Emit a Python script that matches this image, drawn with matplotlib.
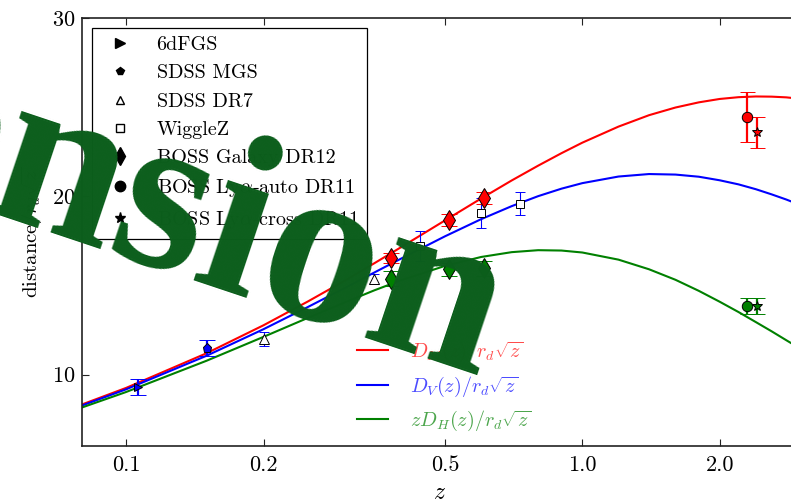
import numpy as np
import matplotlib
matplotlib.use('Agg')
import matplotlib.pyplot as plt
from matplotlib.lines import Line2D

plt.rcParams['font.family'] = 'serif'
plt.rcParams['font.serif'] = ['cmr10']
plt.rcParams['mathtext.fontset'] = 'cm'
plt.rcParams['axes.unicode_minus'] = False
plt.rcParams['axes.formatter.use_mathtext'] = True

# model curves (fiducial LCDM), tabulated in z
z_model = [0.08, 0.1, 0.15, 0.2, 0.25, 0.3, 0.35, 0.4, 0.5, 0.6, 0.7, 0.8, 0.9, 1.0,
           1.2, 1.4, 1.6, 1.8, 2.0, 2.2, 2.4, 2.6, 2.8, 3.0]
dm_model = [8.33, 9.26, 11.20, 12.77, 14.10, 15.24, 16.25, 17.14, 18.65, 19.88, 20.89, 21.72, 22.42, 23.01,
            23.91, 24.55, 24.98, 25.27, 25.46, 25.56, 25.60, 25.59, 25.55, 25.47]
dv_model = [8.27, 9.18, 11.06, 12.55, 13.79, 14.83, 15.73, 16.50, 17.76, 18.72, 19.45, 20.01, 20.43, 20.74,
            21.11, 21.25, 21.22, 21.10, 20.90, 20.67, 20.40, 20.11, 19.82, 19.52]
dh_model = [8.16, 9.03, 10.78, 12.12, 13.18, 14.03, 14.73, 15.29, 16.10, 16.60, 16.87, 16.98, 16.96, 16.85,
            16.45, 15.91, 15.32, 14.70, 14.09, 13.51, 12.95, 12.43, 11.93, 11.47]

# BAO measurements
z_6df, dv_6df, err_6df = [0.106], [9.33], [0.45]
z_mgs, dv_mgs, err_mgs = [0.15], [11.47], [0.45]
z_dr7, dv_dr7, err_dr7 = [0.2, 0.35], [11.99, 15.36], [0.40, 0.30]
z_wig, dv_wig, err_wig = [0.44, 0.6, 0.73], [17.21, 19.07, 19.59], [0.83, 0.85, 0.65]
z_dr12 = [0.38, 0.51, 0.61]
dm_dr12, dm_dr12_err = [16.55, 18.66, 19.90], [0.28, 0.33, 0.32]
dh_dr12, dh_dr12_err = [15.38, 15.90, 15.96], [0.42, 0.37, 0.40]
z_lyauto, dm_lyauto, dm_lyauto_err, dh_lyauto, dh_lyauto_err = [2.30], [24.43], [1.40], [13.85], [0.43]
z_lycross, dm_lycross, dm_lycross_err, dh_lycross, dh_lycross_err = [2.41], [23.58], [0.88], [13.85], [0.43]

xticks = [0.1, 0.2, 0.5, 1.0, 2.0]
xticklabels = ['0.1', '0.2', '0.5', '1.0', '2.0']
yticks = [10, 20, 30]

fig = plt.figure(figsize=(7.91, 5.03), dpi=100)
ax = fig.add_axes([82 / 791, 57 / 503, 718 / 791, 428 / 503])
ax.set_xscale('log')

l_m, = ax.plot(z_model, dm_model, color='red', lw=1.5)
l_v, = ax.plot(z_model, dv_model, color='blue', lw=1.5)
l_h, = ax.plot(z_model, dh_model, color='green', lw=1.5)

thick = dict(ls='none', elinewidth=1.6, capthick=1.6, mec='k', mew=0.7, zorder=5)
thin = dict(ls='none', elinewidth=0.8, capthick=0.8, mec='k', mew=0.7, zorder=5)

ax.errorbar(z_6df, dv_6df, yerr=err_6df, fmt='>', color='blue', ecolor='blue', ms=6, capsize=5.8, **thick)
ax.errorbar(z_mgs, dv_mgs, yerr=err_mgs, fmt='p', color='blue', ecolor='blue', ms=6.5, capsize=5.8, **thick)
ax.errorbar(z_dr7, dv_dr7, yerr=err_dr7, fmt='^', mfc='white', ecolor='blue', ms=6.5, capsize=3.6, **thin)
ax.errorbar(z_wig, dv_wig, yerr=err_wig, fmt='s', mfc='white', ecolor='blue', ms=6, capsize=3.6, **thin)
ax.errorbar(z_dr12, dm_dr12, yerr=dm_dr12_err, fmt='d', color='red', ecolor='red', ms=10, capsize=5.6, **thick)
ax.errorbar(z_dr12, dh_dr12, yerr=dh_dr12_err, fmt='d', color='green', ecolor='green', ms=10, capsize=5.6, **thick)
ax.errorbar(z_lyauto, dm_lyauto, yerr=dm_lyauto_err, fmt='o', color='red', ecolor='red', ms=7.5, capsize=5.4, **thick)
ax.errorbar(z_lyauto, dh_lyauto, yerr=dh_lyauto_err, fmt='o', color='green', ecolor='green', ms=7.5, capsize=5.4, **thick)
ax.errorbar(z_lycross, dm_lycross, yerr=dm_lycross_err, fmt='*', color='red', ecolor='red', ms=7, capsize=5.4, **thick)
ax.errorbar(z_lycross, dh_lycross, yerr=dh_lycross_err, fmt='*', color='green', ecolor='green', ms=7, capsize=5.4, **thick)

ax.set_xlim(0.08, 3.0)
ax.set_ylim(6, 30)
ax.set_xticks(xticks)
ax.set_xticklabels(xticklabels)
ax.xaxis.set_minor_locator(matplotlib.ticker.NullLocator())
ax.set_yticks(yticks)
ax.tick_params(which='both', direction='in', top=True, right=True, length=5, width=0.8,
               labelsize=16, color='#222222')
ax.tick_params(axis='x', pad=7)
ax.tick_params(axis='y', pad=5)
for s in ax.spines.values():
    s.set_color('#222222')
    s.set_linewidth(1.2)

ax.set_xlabel('$z$', fontsize=17)
ax.xaxis.set_label_coords(0.498, -0.083)
ax.set_ylabel(r'distance$/r_d\sqrt{z}$', fontsize=15)
ax.yaxis.set_label_coords(-0.052, 0.5)

# survey legend (black symbols)
handles = [
    Line2D([], [], ls='none', marker='>', color='k', ms=7),
    Line2D([], [], ls='none', marker='p', color='k', ms=6),
    Line2D([], [], ls='none', marker='^', mfc='white', mec='k', ms=6),
    Line2D([], [], ls='none', marker='s', mfc='white', mec='k', ms=6),
    Line2D([], [], ls='none', marker='d', color='k', ms=9),
    Line2D([], [], ls='none', marker='o', color='k', ms=7.5),
    Line2D([], [], ls='none', marker='*', color='k', ms=8),
]
labels = ['6dFGS', 'SDSS MGS', 'SDSS DR7', 'WiggleZ', 'BOSS Galaxy DR12',
          r'BOSS Ly$\alpha$-auto DR11', r'BOSS Ly$\alpha$-cross DR11']
leg1 = ax.legend(handles, labels, loc='upper left', fontsize=14.5, numpoints=1,
                 fancybox=False, framealpha=1, edgecolor='k', borderaxespad=0.5)
leg1.get_frame().set_linewidth(0.9)
ax.add_artist(leg1)

leg2 = ax.legend([l_m, l_v, l_h],
                 [r'$D_M(z)/r_d\sqrt{z}$', r'$D_V(z)/r_d\sqrt{z}$', r'$zD_H(z)/r_d\sqrt{z}$'],
                 loc='upper left', bbox_to_anchor=(357 / 791, 1 - 340 / 503),
                 bbox_transform=fig.transFigure, frameon=False, fontsize=14.5,
                 handlelength=1.55, handletextpad=1.1, borderpad=0, borderaxespad=0)
for txt, c in zip(leg2.get_texts(), ['red', 'blue', 'green']):
    txt.set_color(c)
    txt.set_alpha(0.7)

fig.text(480 / 791, 1 - 377 / 503, 'Dimension', fontfamily='Liberation Serif', fontweight='bold',
         fontsize=166, color='#0c5e1c', rotation=-18.5, rotation_mode='anchor',
         ha='right', va='baseline', zorder=10)

fig.savefig('out.png', dpi=100)
